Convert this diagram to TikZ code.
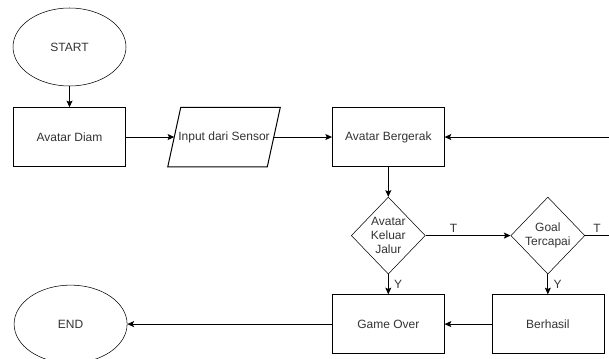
\documentclass[tikz,border=0pt]{standalone}
\usepackage{fontspec}
\setmainfont{Liberation Sans}
\usepackage{tikz}
\usetikzlibrary{positioning,arrows.meta,shapes.geometric}
\definecolor{textgray}{RGB}{51,51,51}

\begin{document}
\begin{tikzpicture}[
        x=0.75pt, y=-0.75pt,
        node distance=15pt and 30pt,
        every node/.style={font=\fontsize{9}{10.5}\selectfont, text=textgray},
        terminal/.style={ellipse, draw, minimum width=84.75pt, minimum height=58.5pt, inner sep=0pt},
        process/.style={rectangle, draw, minimum width=84pt, minimum height=44.25pt},
        io/.style={rectangle, minimum width=84pt, minimum height=44.25pt},
        decision/.style={diamond, draw, align=center, inner sep=0pt,
                  minimum width=55.5pt, minimum height=57.75pt},
        arrow/.style={-{Stealth[length=5pt,width=4.5pt,inset=1pt]}, line width=0.75pt},
        line/.style={line width=0.75pt},
        lbl/.style={inner sep=2pt}
    ]
        \useasboundingbox (0,0) rectangle (609,358);
        \clip (0,0) rectangle (609,358);

        % alur utama
        \node[terminal] (start) at (69.5,47) {START};
        \node[process, below=15.75pt of start] (diam) {Avatar Diam};
        \node[io, right=31.5pt of diam] (input) {Input dari Sensor};
        \node[process, right=38.8pt of input] (bergerak) {Avatar Bergerak};
        \node[decision, below=22.5pt of bergerak] (keluar) {Avatar\\Keluar\\Jalur};
        \node[decision, right=63.75pt of keluar] (goal) {Goal\\Tercapai};
        \node[process, below=15pt of keluar] (gameover) {Game Over};
        \node[process, below=15pt of goal] (berhasil) {Berhasil};
        \node[terminal, left=153.5pt of gameover] (end) {END};

        % jajar genjang input
        \draw[line] (input.south west) -- ([xshift=9.75pt]input.north west)
            -- (input.north east) -- ([xshift=-9.75pt]input.south east) -- cycle;

        % ujung kanan (keluar gambar)
        \coordinate (edge) at (609,0);
        \coordinate (rin) at (bergerak.east -| edge);
        \coordinate (rout) at (goal.east -| edge);

        % panah
        \draw[arrow] (start) -- (diam);
        \draw[arrow] (diam) -- ([xshift=4.9pt]input.west);
        \draw[arrow] ([xshift=-4.9pt]input.east) -- (bergerak);
        \draw[arrow] (rin) -- (bergerak);
        \draw[arrow] (bergerak) -- (keluar);
        \draw[arrow] (keluar) -- node[lbl, pos=0.33, above] (t1) {T} (goal);
        \draw[line] (goal) -- node[lbl, pos=0.5, above] (t2) {T} (rout);
        \draw[arrow] (keluar) -- node[lbl, right, inner sep=4pt] (y1) {Y} (gameover);
        \draw[arrow] (goal) -- node[lbl, right, inner sep=4pt] (y2) {Y} (berhasil);
        \draw[arrow] (berhasil) -- (gameover);
        \draw[arrow] (gameover) -- (end);
    \end{tikzpicture}
\end{document}
